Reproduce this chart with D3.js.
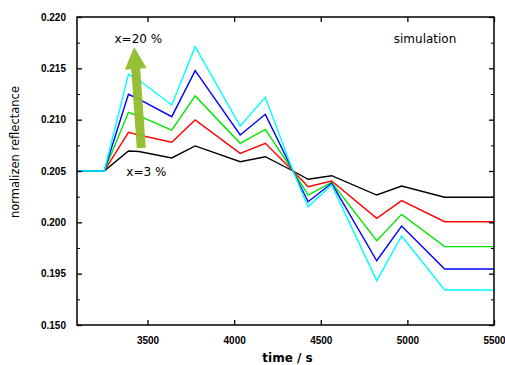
<!DOCTYPE html>
<html>
<head>
<meta charset="utf-8">
<script src="https://cdn.jsdelivr.net/npm/d3@7"></script>
<style>
  html, body { margin: 0; padding: 0; background: #fff; }
  svg { display: block; }
</style>
</head>
<body>
<div id="chart"></div>
<script>
// time points (s)
const times = [3093, 3250, 3390, 3450, 3640, 3775, 4035, 4180, 4340, 4427, 4563, 4823, 4967, 5215, 5500]

// normalized reflectance, x = 3 % ... 20 %
const black = [0.2050, 0.2050, 0.20695, 0.20690, 0.20627, 0.20744, 0.20591, 0.20639, 0.2050, 0.20419, 0.20454, 0.20266, 0.20354, 0.20244, 0.20244]
const red = [0.2050, 0.2050, 0.20877, 0.20851, 0.20780, 0.20997, 0.20672, 0.20770, 0.2050, 0.20347, 0.20403, 0.20039, 0.20211, 0.20006, 0.20006]
const green = [0.2050, 0.2050, 0.21072, 0.21036, 0.20899, 0.21231, 0.20770, 0.20906, 0.2050, 0.20266, 0.20390, 0.19821, 0.20078, 0.19763, 0.19763]
const blue = [0.2050, 0.2050, 0.21247, 0.21201, 0.21029, 0.21477, 0.20851, 0.21052, 0.2050, 0.20201, 0.20380, 0.19626, 0.19964, 0.19546, 0.19546]
const cyan = [0.2050, 0.2050, 0.21442, 0.21386, 0.21143, 0.21711, 0.20938, 0.21218, 0.2050, 0.20152, 0.20364, 0.19432, 0.19867, 0.19341, 0.19341]

const seriesList = [
  { name: 'x=3 %', values: black, color: '#000000' },
  { name: 'red', values: red, color: '#ff0000' },
  { name: 'green', values: green, color: '#00e600' },
  { name: 'blue', values: blue, color: '#0000ff' },
  { name: 'x=20 %', values: cyan, color: '#00ffff' }
]

const xTicks = [3500, 4000, 4500, 5000, 5500]
const yTicks = [0.190, 0.195, 0.200, 0.205, 0.210, 0.215, 0.220]
const yTickLabels = ['0.150', '0.195', '0.200', '0.205', '0.210', '0.215', '0.220']
const yMinorTicks = [0.1925, 0.1975, 0.2025, 0.2075, 0.2125, 0.2175]

const width = 505
const height = 365
const margin = { top: 17, right: 11, bottom: 40, left: 77 }

const svg = d3.select('#chart')
  .append('svg')
  .attr('width', width)
  .attr('height', height)

const x = d3.scaleLinear()
  .domain([3093, 5500])
  .range([margin.left, width - margin.right])

const y = d3.scaleLinear()
  .domain([0.190, 0.220])
  .range([height - margin.bottom, margin.top])

const tickFont = 'Liberation Sans, Arial, sans-serif'

// lines
const line = d3.line()
  .x((d, i) => x(times[i]))
  .y((d) => y(d))

svg.append('g')
  .selectAll('path')
  .data(seriesList)
  .join('path')
  .attr('fill', 'none')
  .attr('stroke', (d) => d.color)
  .attr('stroke-width', 1.4)
  .attr('stroke-linejoin', 'miter')
  .attr('d', (d) => line(d.values))

// arrow (annotation, in data coordinates)
const arrowBase = [3464, 0.20724]
const arrowTip = [3423, 0.21708]
const bx = x(arrowBase[0]), by = y(arrowBase[1])
const tx = x(arrowTip[0]), ty = y(arrowTip[1])
const ang = Math.atan2(ty - by, tx - bx)
const headLen = 22
const shaftW = 4.5
const headW = 11
const ux = Math.cos(ang), uy = Math.sin(ang)
const px = -uy, py = ux
const hx = tx - ux * headLen, hy = ty - uy * headLen
const arrowPts = [
  [bx + px * shaftW, by + py * shaftW],
  [hx + px * shaftW, hy + py * shaftW],
  [hx + px * headW, hy + py * headW],
  [tx, ty],
  [hx - px * headW, hy - py * headW],
  [hx - px * shaftW, hy - py * shaftW],
  [bx - px * shaftW, by - py * shaftW]
]
svg.append('polygon')
  .attr('points', arrowPts.map((p) => p.join(',')).join(' '))
  .attr('fill', '#8fbc2a')
  .attr('opacity', 0.95)

// frame
svg.append('rect')
  .attr('fill', 'none')
  .attr('stroke', '#000')
  .attr('stroke-width', 1.5)
  .attr('x', x.range()[0])
  .attr('y', y.range()[1])
  .attr('width', x.range()[1] - x.range()[0])
  .attr('height', y.range()[0] - y.range()[1])

// bottom axis (ticks inward)
svg.append('g')
  .attr('transform', `translate(0, ${y.range()[0]})`)
  .call(d3.axisBottom(x).tickValues(xTicks).tickSize(-5).tickPadding(12).tickFormat(d3.format('d')))
  .call((g) => g.select('.domain').remove())
  .call((g) => g.selectAll('.tick>line').attr('stroke-width', 1.3))
  .call((g) => g.selectAll('.tick>text')
    .style('font-family', tickFont)
    .style('font-size', '10px')
    .style('font-weight', 'bold')
    .attr('fill', '#000'))

// top axis
svg.append('g')
  .attr('transform', `translate(0, ${y.range()[1]})`)
  .call(d3.axisTop(x).tickValues(xTicks).tickSize(-5).tickFormat(''))
  .call((g) => g.select('.domain').remove())
  .call((g) => g.selectAll('.tick>line').attr('stroke-width', 1.3))

// left axis
svg.append('g')
  .attr('transform', `translate(${x.range()[0]}, 0)`)
  .call(d3.axisLeft(y).tickValues(yTicks).tickSize(-5).tickPadding(11)
    .tickFormat((d, i) => yTickLabels[i]))
  .call((g) => g.select('.domain').remove())
  .call((g) => g.selectAll('.tick>line').attr('stroke-width', 1.3))
  .call((g) => g.selectAll('.tick>text')
    .style('font-family', tickFont)
    .style('font-size', '10px')
    .style('font-weight', 'bold')
    .attr('fill', '#000'))

svg.append('g')
  .attr('transform', `translate(${x.range()[0]}, 0)`)
  .call(d3.axisLeft(y).tickValues(yMinorTicks).tickSize(-3).tickFormat(''))
  .call((g) => g.select('.domain').remove())

// right axis
svg.append('g')
  .attr('transform', `translate(${x.range()[1]}, 0)`)
  .call(d3.axisRight(y).tickValues(yTicks).tickSize(-5).tickFormat(''))
  .call((g) => g.select('.domain').remove())
  .call((g) => g.selectAll('.tick>line').attr('stroke-width', 1.3))

svg.append('g')
  .attr('transform', `translate(${x.range()[1]}, 0)`)
  .call(d3.axisRight(y).tickValues(yMinorTicks).tickSize(-3).tickFormat(''))
  .call((g) => g.select('.domain').remove())

// labels
const labelFont = 'DejaVu Sans, Verdana, sans-serif'

svg.append('text')
  .attr('x', (x.range()[0] + x.range()[1]) / 2 + 2)
  .attr('y', 362)
  .attr('text-anchor', 'middle')
  .style('font-family', labelFont)
  .style('font-size', '12px')
  .style('font-weight', 'bold')
  .text('time / s')

svg.append('text')
  .attr('transform', `translate(19, 152) rotate(-90)`)
  .attr('text-anchor', 'middle')
  .style('font-family', labelFont)
  .style('font-size', '11.5px')
  .text('normalizen reflectance')

svg.append('text')
  .attr('x', x(5102))
  .attr('y', y(0.21747))
  .attr('text-anchor', 'middle')
  .style('font-family', labelFont)
  .style('font-size', '12px')
  .text('simulation')

svg.append('text')
  .attr('x', x(3447))
  .attr('y', y(0.21747))
  .attr('text-anchor', 'middle')
  .style('font-family', labelFont)
  .style('font-size', '12px')
  .text('x=20 %')

svg.append('text')
  .attr('x', x(3493))
  .attr('y', y(0.2045))
  .attr('text-anchor', 'middle')
  .style('font-family', labelFont)
  .style('font-size', '12px')
  .text('x=3 %')
</script>
</body>
</html>
